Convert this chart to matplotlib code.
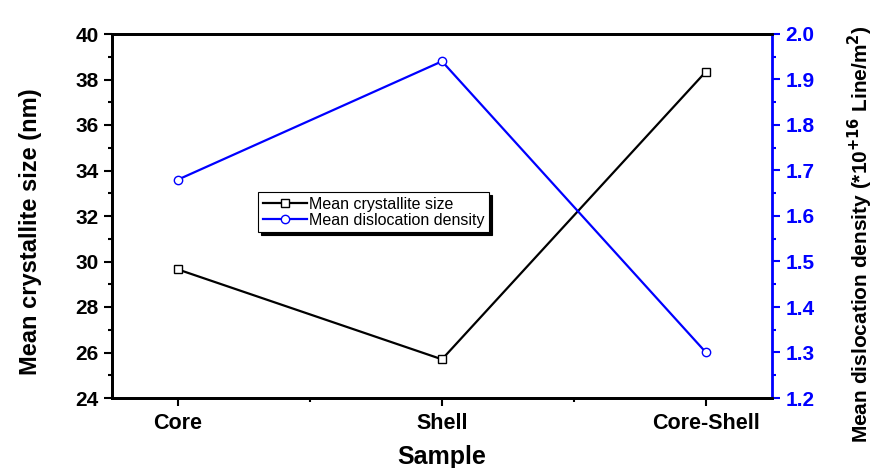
import matplotlib
matplotlib.use("Agg")
import matplotlib.pyplot as plt
from matplotlib.ticker import MultipleLocator, FixedLocator

plt.rcParams['font.family'] = ['Liberation Sans', 'DejaVu Sans']

samples = ["Core", "Shell", "Core-Shell"]
xpos = [1, 2, 3]
cryst_size = [29.65, 25.7, 38.35]
disl_density = [1.68, 1.94, 1.30]
right_ticks = [1.2, 1.3, 1.4, 1.5, 1.6, 1.7, 1.8, 1.9, 2.0]

fig = plt.figure(figsize=(8.78, 4.68), dpi=100)
ax = fig.add_axes([112/878, 1-398/468, 660/878, 364/468])
ax2 = ax.twinx()

l1, = ax.plot(xpos, cryst_size, color='black', lw=1.6, marker='s', ms=6,
              mfc='white', mec='black', mew=1, label='Mean crystallite size')
l2, = ax2.plot(xpos, disl_density, color='blue', lw=1.6, marker='o', ms=6,
               mfc='white', mec='blue', mew=1, label='Mean dislocation density')

ax.set_xlim(0.75, 3.25)
ax.set_ylim(24, 40)

ax.set_xticks(xpos)
ax.set_xticklabels(samples, fontsize=15.5, fontweight='bold')
ax.xaxis.set_minor_locator(FixedLocator([1.5, 2.5]))
ax.yaxis.set_major_locator(MultipleLocator(2))
ax.yaxis.set_minor_locator(MultipleLocator(1))
ax2.yaxis.set_minor_locator(MultipleLocator(0.05))

ax.tick_params(axis='both', which='both', direction='out', width=1.5)
ax.tick_params(axis='y', which='major', length=6, labelsize=15)
ax.tick_params(axis='x', which='major', length=6, pad=5)
ax.tick_params(axis='both', which='minor', length=3)
ax2.tick_params(axis='y', which='both', direction='out', width=1.5,
                colors='blue', labelsize=15)
ax2.tick_params(axis='y', which='major', length=6)
ax2.tick_params(axis='y', which='minor', length=3)
for lab in ax.get_yticklabels():
    lab.set_fontweight('bold')
ax2.set_yticks(right_ticks)
ax2.set_yticklabels(['%.1f' % v for v in right_ticks], fontweight='bold')
ax2.set_ylim(1.2, 2.0)

for s in ['left', 'bottom', 'top']:
    ax.spines[s].set_linewidth(2)
ax2.spines['left'].set_linewidth(2)
ax2.spines['top'].set_linewidth(2)
ax2.spines['bottom'].set_linewidth(2)
ax2.spines['right'].set_color('blue')
ax2.spines['right'].set_linewidth(2)
ax.spines['right'].set_visible(False)

ax.set_xlabel("Sample", fontsize=18, fontweight='bold', labelpad=8)
ax.set_ylabel("Mean crystallite size (nm)", fontsize=17, fontweight='bold')
ax.yaxis.set_label_coords(-0.106, 0.456)
ax2.set_ylabel("Mean dislocation density (*10$^{\\mathbf{+16}}$ Line/m$^{\\mathbf{2}}$)",
               fontsize=15, fontweight='bold')
ax2.yaxis.set_label_coords(1.112, 0.45)

leg = ax.legend(handles=[l1, l2], loc='upper left', bbox_to_anchor=(0.221, 0.566),
                fontsize=11.5, frameon=True, fancybox=False,
                shadow={'color': 'black', 'alpha': 1},
                edgecolor='black', borderpad=0.3, labelspacing=0.05, handlelength=2.8,
                handletextpad=0.1, borderaxespad=0)
leg.get_frame().set_linewidth(0.8)

fig.savefig("out.png", dpi=100)
